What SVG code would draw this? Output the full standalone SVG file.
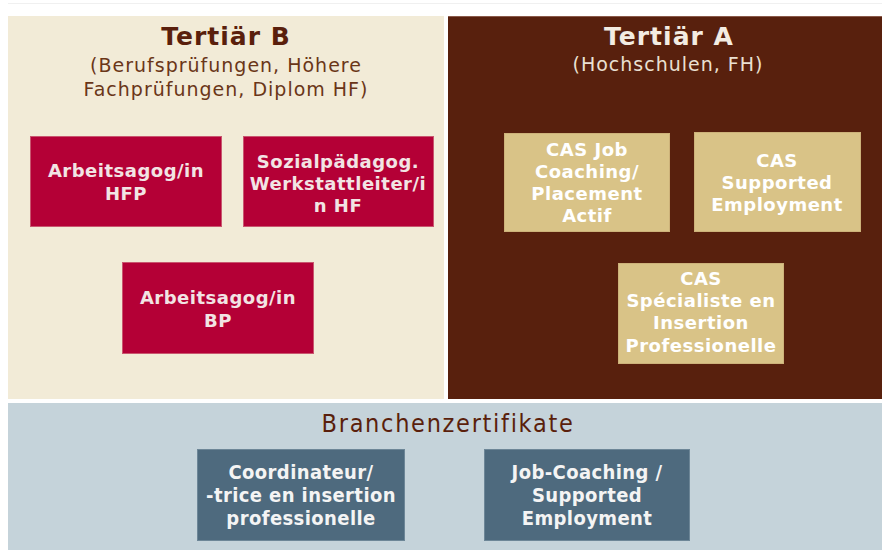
<svg xmlns="http://www.w3.org/2000/svg" width="882" height="553" viewBox="0 0 882 553">
  <style>
    .title { font-family: "DejaVu Sans", Verdana, sans-serif; font-weight: bold; font-size: 25px; letter-spacing: 1px; text-anchor: middle; }
    .sub { font-family: "DejaVu Sans", Verdana, sans-serif; font-size: 19px; letter-spacing: 1px; text-anchor: middle; }
    .lbl { font-family: "DejaVu Sans", Verdana, sans-serif; font-weight: bold; font-size: 18px; letter-spacing: 0.5px; text-anchor: middle; }
    .lblc { font-family: "DejaVu Sans Condensed", "DejaVu Sans", sans-serif; font-stretch: condensed; font-weight: bold; font-size: 20px; letter-spacing: 0.4px; text-anchor: middle; fill: #f4f4f4; }
    .red rect { fill: #b40036; stroke: #c9566f; stroke-width: 1; }
    .red text { fill: #f2e4e4; }
    .tan rect { fill: #d9c387; stroke: #cdb27a; stroke-width: 1; }
    .tan text { fill: #ffffff; }
    .slate rect { fill: #4e6a7e; stroke: #6d8697; stroke-width: 1; }
  </style>

  <rect x="0" y="0" width="882" height="553" fill="#ffffff"/>
  <line x1="8" y1="3.5" x2="882" y2="3.5" stroke="#f0f0f0" stroke-width="1"/>

  <!-- Tertiär B panel -->
  <g id="panel-tertiaer-b">
    <rect x="8" y="16" width="436" height="383" fill="#f2ebd7"/>
    <text class="title" x="226" y="45" fill="#5a1f0c">Tertiär B</text>
    <text class="sub" x="226" y="72" fill="#6a3618">(Berufsprüfungen, Höhere</text>
    <text class="sub" x="226" y="96" fill="#6a3618">Fachprüfungen, Diplom HF)</text>
  </g>

  <!-- Tertiär A panel -->
  <g id="panel-tertiaer-a">
    <rect x="448" y="16" width="434" height="383" fill="#58200d"/>
    <line x1="448" y1="16.5" x2="882" y2="16.5" stroke="#8a5a4a" stroke-width="1"/>
    <text class="title" x="669" y="45" fill="#f3ece2">Tertiär A</text>
    <text class="sub" x="668" y="71" fill="#eae0d2">(Hochschulen, FH)</text>
  </g>

  <!-- Branchenzertifikate panel -->
  <g id="panel-branche">
    <rect x="8" y="403" width="874" height="147" fill="#c5d3da"/>
    <text x="448" y="432" font-family="'DejaVu Sans Condensed', 'DejaVu Sans', sans-serif" font-stretch="condensed" font-size="25" letter-spacing="1.7" text-anchor="middle" fill="#5a1f0c">Branchenzertifikate</text>
  </g>

  <!-- Tertiär B nodes -->
  <g id="node-arbeitsagoge-hfp" class="red">
    <rect x="30.5" y="136.5" width="191" height="90"/>
    <text class="lbl" x="126" y="177">Arbeitsagog/in</text>
    <text class="lbl" x="126" y="200">HFP</text>
  </g>
  <g id="node-werkstattleiter-hf" class="red">
    <rect x="243.5" y="136.5" width="190" height="90"/>
    <text class="lbl" x="338" y="168">Sozialpädagog.</text>
    <text class="lbl" x="338" y="190">Werkstattleiter/i</text>
    <text class="lbl" x="338" y="212">n HF</text>
  </g>
  <g id="node-arbeitsagoge-bp" class="red">
    <rect x="122.5" y="262.5" width="191" height="91"/>
    <text class="lbl" x="218" y="304">Arbeitsagog/in</text>
    <text class="lbl" x="218" y="327">BP</text>
  </g>

  <!-- Tertiär A nodes -->
  <g id="node-cas-job-coaching" class="tan">
    <rect x="504.5" y="133.5" width="165" height="98"/>
    <text class="lbl" x="587" y="156">CAS Job</text>
    <text class="lbl" x="587" y="178">Coaching/</text>
    <text class="lbl" x="587" y="200">Placement</text>
    <text class="lbl" x="587" y="222">Actif</text>
  </g>
  <g id="node-cas-supported-employment" class="tan">
    <rect x="694.5" y="132.5" width="166" height="99"/>
    <text class="lbl" x="777" y="167">CAS</text>
    <text class="lbl" x="777" y="189">Supported</text>
    <text class="lbl" x="777" y="211">Employment</text>
  </g>
  <g id="node-cas-specialiste" class="tan">
    <rect x="618.5" y="263.5" width="165" height="100"/>
    <text class="lbl" x="701" y="285">CAS</text>
    <text class="lbl" x="701" y="307">Spécialiste en</text>
    <text class="lbl" x="701" y="329">Insertion</text>
    <text class="lbl" x="701" y="352">Professionelle</text>
  </g>

  <!-- Branchenzertifikate nodes -->
  <g id="node-coordinateur" class="slate">
    <rect x="197.5" y="449.5" width="207" height="91"/>
    <text class="lblc" x="301" y="479">Coordinateur/</text>
    <text class="lblc" x="301" y="502">-trice en insertion</text>
    <text class="lblc" x="301" y="525">professionelle</text>
  </g>
  <g id="node-job-coaching" class="slate">
    <rect x="484.5" y="449.5" width="205" height="91"/>
    <text class="lblc" x="587" y="479">Job-Coaching /</text>
    <text class="lblc" x="587" y="502">Supported</text>
    <text class="lblc" x="587" y="525">Employment</text>
  </g>

  <g id="connectors"/>
</svg>
